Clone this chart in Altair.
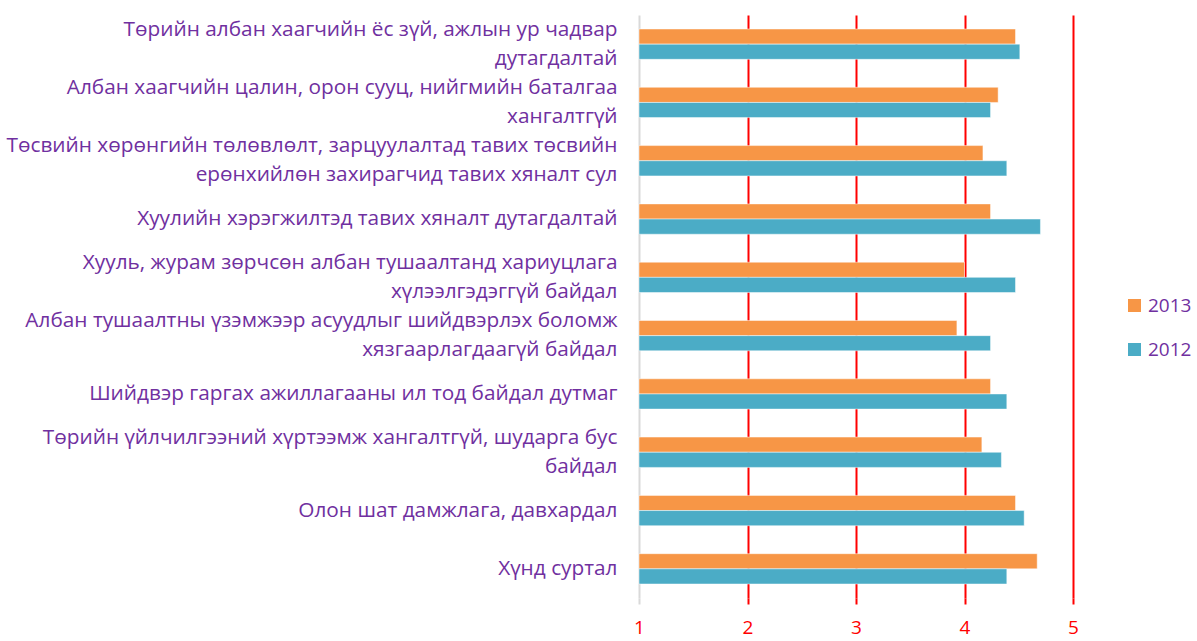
import altair as alt
import pandas as pd

categories = [
    "Төрийн албан хаагчийн ёс зүй, ажлын ур чадвар\nдутагдалтай",
    "Албан хаагчийн цалин, орон сууц, нийгмийн  баталгаа\nхангалтгүй",
    "Төсвийн хөрөнгийн төлөвлөлт, зарцуулалтад тавих төсвийн\nерөнхийлөн захирагчид тавих хяналт сул",
    "Хуулийн хэрэгжилтэд тавих хяналт дутагдалтай",
    "Хууль, журам зөрчсөн албан тушаалтанд хариуцлага\nхүлээлгэдэггүй байдал",
    "Албан тушаалтны үзэмжээр асуудлыг шийдвэрлэх боломж\nхязгаарлагдаагүй байдал",
    "Шийдвэр гаргах ажиллагааны ил тод байдал дутмаг",
    "Төрийн үйлчилгээний хүртээмж хангалтгүй, шударга бус\nбайдал",
    "Олон шат дамжлага, давхардал",
    "Хүнд суртал",
]
values_2013 = [4.47, 4.31, 4.17, 4.24, 4.00, 3.93, 4.24, 4.16, 4.47, 4.67]
values_2012 = [4.51, 4.24, 4.39, 4.70, 4.47, 4.24, 4.39, 4.34, 4.55, 4.39]
years = ["2013", "2012"]
x_ticks = [1, 2, 3, 4, 5]
axis_start = 1

rows = []
for c, v13, v12 in zip(categories, values_2013, values_2012):
    rows.append({"category": c, "year": "2013", "value": v13})
    rows.append({"category": c, "year": "2012", "value": v12})
df = pd.DataFrame(rows)

purple = "#7030A0"
font = "Open Sans"

chart = (
    alt.Chart(df)
    .mark_bar(stroke="#ffffff", strokeWidth=0.8, strokeOpacity=0.6)
    .encode(
        x=alt.X(
            "value:Q",
            scale=alt.Scale(domain=[1, 5], nice=False, zero=False),
            axis=alt.Axis(
                values=x_ticks,
                title=None,
                domain=False,
                gridColor={"condition": {"test": "datum.value == 1", "value": "#d9d9d9"}, "value": "#ff0000"},
                gridWidth=2,
                tickColor={"condition": {"test": "datum.value == 1", "value": "#d9d9d9"}, "value": "#ff0000"},
                tickWidth=2,
                tickSize=6,
                labelColor="#ff0000",
                labelFontSize=19,
                labelFont=font,
                labelPadding=14,
                labelFlush=False,
                format="d",
            ),
        ),
        x2=alt.datum(axis_start),
        y=alt.Y(
            "category:N",
            sort=categories,
            scale=alt.Scale(paddingInner=0.48, paddingOuter=0.24),
            axis=alt.Axis(
                title=None,
                ticks=False,
                domain=False,
                labelExpr="split(datum.label, '\\n')",
                labelColor=purple,
                labelFontSize=20.8,
                labelFont=font,
                labelLineHeight=29,
                labelOffset={"condition": {"test": "length(split(datum.label, '\\n')) > 1", "value": -14.5}, "value": 0},
                labelPadding=22,
                labelLimit=700,
            ),
        ),
        yOffset=alt.YOffset("year:N", sort=years),
        color=alt.Color(
            "year:N",
            sort=years,
            scale=alt.Scale(domain=years, range=["#F79646", "#4BACC6"]),
            legend=alt.Legend(
                title=None,
                orient="none",
                legendX=486,
                legendY=281,
                symbolType="square",
                symbolSize=170,
                symbolStrokeWidth=0,
                labelColor=purple,
                labelFontSize=19,
                labelFont=font,
                rowPadding=24,
                labelOffset=4,
                labelLimit=80,
            ),
        ),
    )
    .properties(
        width=434,
        height=583,
        padding={"left": 639, "top": 15, "right": 124, "bottom": 43},
        autosize=alt.AutoSizeParams(type="none"),
    )
    .configure_view(stroke=None)
)

chart.save("out.html", embed_options={"renderer": "svg", "actions": False})
